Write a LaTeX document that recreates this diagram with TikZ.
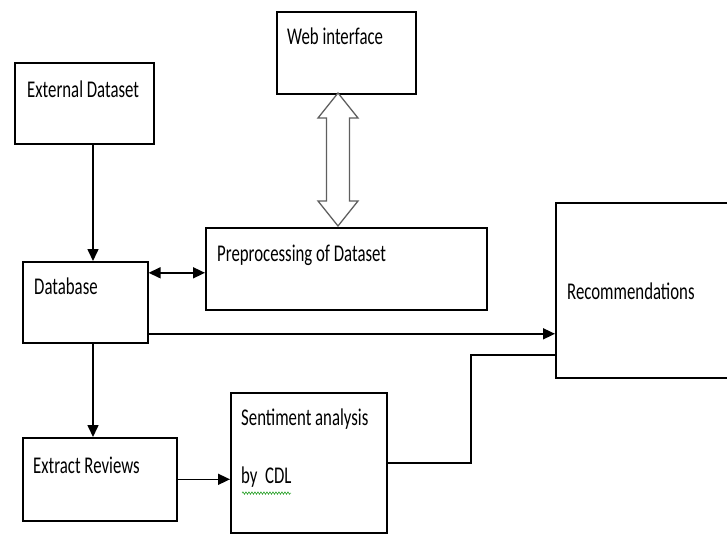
\documentclass[tikz,border=0pt]{standalone}
\usepackage{fontspec}
\setmainfont{Carlito}[FakeStretch=0.7]
\usetikzlibrary{arrows.meta,positioning,calc,decorations.pathmorphing}
\definecolor{spell}{RGB}{40,160,40}
\definecolor{outl}{RGB}{95,95,95}

\begin{document}
\begin{tikzpicture}[x=1pt,y=-1pt,
  blk/.style={draw,line width=1.6pt,rectangle,inner sep=0pt,anchor=north west},
  lbl/.style={anchor=base west,inner sep=0pt,font=\fontsize{24}{28}\selectfont},
  tip/.style={Triangle[length=12pt,width=11pt]},
  conn/.style={line width=1.6pt,-{Triangle[length=12pt,width=11pt]}}]
 \useasboundingbox (0,0) rectangle (727,533);
 \clip (0,0) rectangle (727,533);
 % boxes
 \node[blk,minimum width=139pt,minimum height=81pt] (ext) at (14,62) {};
 \node[blk,minimum width=139pt,minimum height=82pt] (web) at (276,11) {};
 \node[blk,minimum width=125pt,minimum height=81pt] (db) at (22,261) {};
 \node[blk,minimum width=281pt,minimum height=82pt] (pre) at (205,227) {};
 \node[blk,minimum width=200pt,minimum height=175pt] (rec) at (555,202) {};
 \node[blk,minimum width=154pt,minimum height=83pt] (rev) at (22,437) {};
 \node[blk,minimum width=156pt,minimum height=140pt] (sent) at (230,392) {};
 % labels
 \node[lbl] (extlbl) at (27,97) {External Dataset};
 \node[lbl] (weblbl) at (287,44) {Web interface};
 \node[lbl] (dblbl) at (34,294) {Database};
 \node[lbl] (prelbl) at (217,261) {Preprocessing of Dataset};
 \node[lbl] (reclbl) at (567,299) {Recommendations};
 \node[lbl] (revlbl) at (33,473) {Extract Reviews};
 \node[lbl] (sentlbl) at (241,425) {Sentiment analysis};
 \node[lbl] (cdllbl) at (241,483) {by\ \ CDL};
 \draw[spell,line width=0.6pt,decorate,decoration={snake,amplitude=1.2pt,segment length=3pt}]
   (cdllbl.south west) ++(1,6) -- ++(49,0);
 % connectors
 \coordinate (vx) at (93,0);
 \coordinate (elbow) at (471,355);
 \coordinate (wtip) at (338,93);
 \coordinate (ptip) at (338,226);
 \draw[conn] (ext.south -| vx) -- (db.north -| vx);
 \draw[conn] (db.south -| vx) -- (rev.north -| vx);
 \draw[conn,{Triangle[length=12pt,width=11pt]}-{Triangle[length=12pt,width=11pt]}]
   ([yshift=29.5pt]db.east) -- ([yshift=29.5pt]db.east -| pre.west);
 \draw[conn] ([yshift=-31.5pt]db.east) -- ([yshift=-31.5pt]db.east -| rec.west);
 \draw[conn] (rev.east) -- (rev.east -| sent.west);
 \draw[line width=1.6pt] (sent.east) -| (elbow) -- (elbow -| rec.west);
 % web <-> preprocessing
 \draw[outl,fill=white,line width=1.3pt,line join=miter]
   (wtip) -- ++(20,25) -- ++(-8.5,0) -- ($(ptip)+(11.5,-25)$) -- ++(8.5,0) -- (ptip)
   -- ++(-20,-25) -- ++(8.5,0) -- ($(wtip)+(-11.5,25)$) -- ++(-8.5,0) -- cycle;
\end{tikzpicture}
\end{document}
